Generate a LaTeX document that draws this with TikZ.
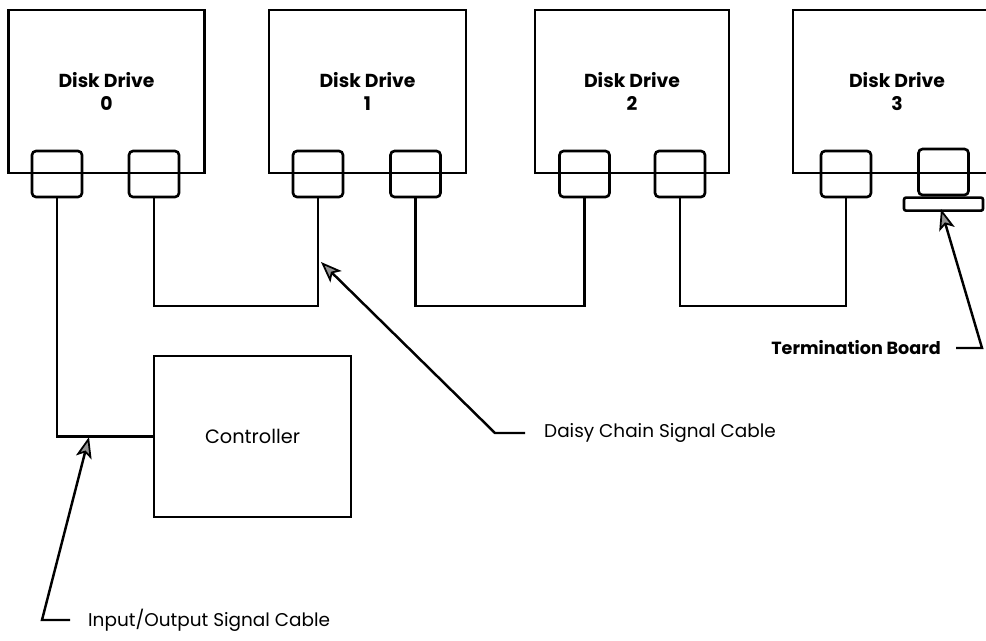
\documentclass[tikz,border=0pt]{standalone}
\usepackage{fontspec}
\setmainfont{Poppins}
\usetikzlibrary{arrows.meta,positioning}

\tikzset{
  drive/.style={draw, line width=1.5pt, minimum width=3.92cm, minimum height=3.26cm,
    align=center, font=\fontsize{10.7}{13.6}\selectfont\bfseries},
  port/.style={draw, line width=1.5pt, rounded corners=0.08cm, minimum width=1cm,
    minimum height=0.92cm, inner sep=0pt},
  board/.style={draw, line width=1.5pt, rounded corners=0.04cm, minimum width=1.58cm,
    minimum height=0.26cm, inner sep=0pt},
  ctrlbox/.style={draw, line width=1.5pt, minimum width=3.94cm, minimum height=3.22cm,
    font=\fontsize{11}{13}\selectfont},
  cable/.style={line width=1.5pt},
  pointer/.style={line width=1.4pt,
    -{Stealth[length=0.42cm, width=0.32cm, inset=0.1cm, fill=gray!85, line width=1pt]}},
  callout/.style={font=\fontsize{10.5}{13}\selectfont},
  callbold/.style={font=\fontsize{10}{13}\selectfont\bfseries},
}

\begin{document}
\begin{tikzpicture}[x=0.02cm, y=-0.02cm]
  \useasboundingbox (0,0) rectangle (986,640);
  % the four drives
  \node[drive] (d0) at (106.5,91.5) {Disk Drive\\0};
  \node[drive, minimum width=3.94cm] (d1) at (367.5,91.5) {Disk Drive\\1};
  \node[drive, minimum width=3.88cm] (d2) at (632,91.5) {Disk Drive\\2};
  \node[drive, minimum width=4.16cm] (d3) at (897,91.5) {Disk Drive\\3};
  % connectors on the bottom edge
  \node[port] (p0a) at (57,174) {};
  \node[port] (p0b) at (154,174) {};
  \node[port] (p1a) at (318,174) {};
  \node[port] (p1b) at (415.5,174) {};
  \node[port] (p2a) at (584.5,174) {};
  \node[port] (p2b) at (680,174) {};
  \node[port] (p3a) at (846,174) {};
  \node[port] (p3b) at (943.5,172) {};
  \node[board, below=0pt of p3b] (tb) {};
  % controller
  \node[ctrlbox] (ctl) at (252.5,436.5) {Controller};
  % cables
  \coordinate (bus) at (0,306);
  \draw[cable] (p0a.south) |- (ctl.west);
  \draw[cable] (p0b.south) -- (p0b.south |- bus) -- (p1a.south |- bus) -- (p1a.south);
  \draw[cable] (p1b.south) -- (p1b.south |- bus) -- (p2a.south |- bus) -- (p2a.south);
  \draw[cable] (p2b.south) -- (p2b.south |- bus) -- (p3a.south |- bus) -- (p3a.south);
  % callouts
  \node[callout, anchor=west] (io) at (82,620) {Input/Output Signal Cable};
  \coordinate (ioel) at (42,620);
  \coordinate (iotip) at (89,437);
  \draw[pointer] ([xshift=-0.24cm]io.west) -- (ioel) -- (iotip);
  \node[callout, anchor=west] (dc) at (538,433) {Daisy Chain Signal Cable};
  \coordinate (dcel) at (495,433);
  \coordinate (dctip) at (321,262);
  \draw[pointer] ([xshift=-0.26cm]dc.west) -- (dcel) -- (dctip);
  \node[callbold, anchor=east] (tm) at (947,348) {Termination Board};
  \coordinate (tmel) at (982,348);
  \coordinate (tmtip) at (941,209);
  \draw[pointer] ([xshift=0.18cm]tm.east) -- (tmel) -- (tmtip);
\end{tikzpicture}
\end{document}
